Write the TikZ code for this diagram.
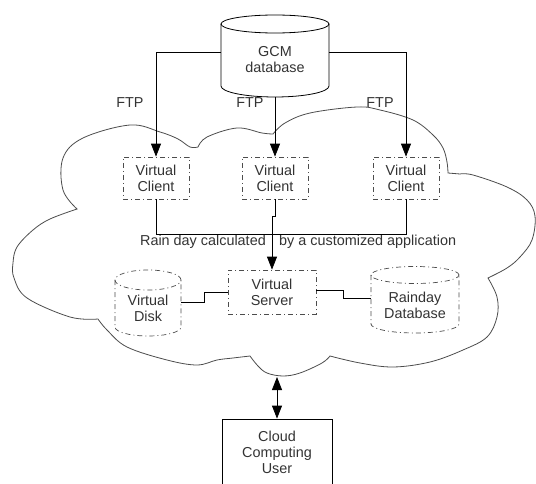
\documentclass[tikz,border=0pt]{standalone}
\usepackage{fontspec}
\setmainfont{Liberation Sans}
\usetikzlibrary{arrows.meta}
\begin{document}
\begin{tikzpicture}[x=1pt,y=-1pt,
  every node/.style={font=\fontsize{14.4}{16}\selectfont, text=black!80, align=center, inner sep=0pt},
  boxd/.style={draw=black!70, line width=0.7pt, dash pattern=on 5pt off 3pt on 1pt off 3pt},
  link/.style={draw=black, line width=0.8pt},
  arr/.style={link, -{Triangle[width=10pt,length=13pt]}},
  cloudline/.style={draw=black!70, line width=0.8pt},
]
\useasboundingbox (0,0) rectangle (536,484);
\clip (0,0) rectangle (536,484);

% cloud outline, one smooth run per lobe
\draw[cloudline]
  plot[smooth, tension=0.6] coordinates {(98,319) (70,317) (27,298) (14,278) (13,263) (17,247) (33,230) (50,219) (77,209)}
  -- plot[smooth, tension=0.6] coordinates {(77,209) (63,190) (63,158) (83,138) (130,125) (160,132) (178,139) (190,147) (198,147)}
  -- plot[smooth, tension=0.6] coordinates {(198,147) (207,137) (237,128) (262,133) (273,134)}
  -- plot[smooth, tension=0.6] coordinates {(273,134) (285,123) (310,113) (357,107) (380,110) (413,120) (433,135) (443,148) (447,162) (448,173)}
  -- (460,174)
  -- plot[smooth, tension=0.6] coordinates {(460,174) (473,175) (507,187) (527,200) (535,216) (532,240) (520,257) (507,268) (488,278)}
  -- plot[smooth, tension=0.6] coordinates {(488,278) (497,297) (497,317) (487,337) (463,350) (430,362) (393,367) (360,363) (330,356)}
  -- plot[smooth, tension=0.6] coordinates {(330,356) (322,363) (300,373) (283,376) (267,373) (258,366) (250,356)}
  -- plot[smooth, tension=0.6] coordinates {(250,356) (233,358) (217,360) (197,365) (167,360) (127,347) (107,330) (98,319)}
  -- cycle;

% GCM database cylinder
\draw[link] (275,24) ellipse [x radius=54pt, y radius=9pt];
\draw[link] (221,24) -- (221,86) arc[start angle=180, end angle=360, x radius=54pt, y radius=11pt] -- (329,24);
\node (gcm) [minimum width=108pt, minimum height=74pt] at (275,60) {GCM\\database};

% virtual clients
\node (vc1) [boxd, minimum width=66pt, minimum height=42pt] at (156,178) {Virtual\\Client};
\node (vc2) [boxd, minimum width=66pt, minimum height=42pt] at (275,178) {Virtual\\Client};
\node (vc3) [boxd, minimum width=66pt, minimum height=42pt] at (406,178) {Virtual\\Client};

% FTP labels
\node (ftp1) at (130,103) {FTP};
\node (ftp2) at (250,103) {FTP};
\node (ftp3) at (380,103) {FTP};

% virtual server
\node (server) [boxd, minimum width=88pt, minimum height=44pt] at (272,292) {Virtual\\Server};

% virtual disk cylinder
\draw[boxd] (148,280) ellipse [x radius=33pt, y radius=10pt];
\draw[boxd] (115,280) -- (115,327) arc[start angle=180, end angle=360, x radius=33pt, y radius=9pt] -- (181,280);
\node (disk) [minimum width=66pt, minimum height=20pt] at (148,308) {Virtual\\Disk};

% rainday database cylinder
\draw[boxd] (415,275) ellipse [x radius=44pt, y radius=8.5pt];
\draw[boxd] (371,275) -- (371,324) arc[start angle=180, end angle=360, x radius=44pt, y radius=9pt] -- (459,275);
\node (db) [minimum width=88pt, minimum height=20pt] at (415,305) {Rainday\\Database};

% processing note
\node (rain1) [anchor=base east] at (266,245) {Rain day calculated};
\node (rain2) [anchor=base west] at (279,245) {by a customized application};

% cloud computing user
\node (user) [link, minimum width=110pt, minimum height=66pt] at (277,452) {Cloud\\Computing\\User};
\coordinate (cloudbot) at (277,377);

% FTP transfers
\draw[arr] ([yshift=8pt]gcm.west) -| (vc1.north);
\draw[arr] ([yshift=8pt]gcm.east) -| (vc3.north);
\draw[arr] (gcm.south) -- (vc2.north);

% clients to server
\draw[link] (vc1.south) -- ++(0,35) -| (vc3.south);
\draw[arr] (vc2.south) -- ++(0,17) -| (server.north);

% storage links
\draw[link] ([yshift=6pt]disk.east) -- ++(23,0) |- (server.west);
\draw[link] ([yshift=2pt]server.east) -- ++(27,0) |- ([yshift=7pt]db.west);

% user access
\draw[link, {Triangle[width=10pt,length=13pt]}-{Triangle[width=10pt,length=13pt]}] (cloudbot) -- (user.north);
\end{tikzpicture}
\end{document}
